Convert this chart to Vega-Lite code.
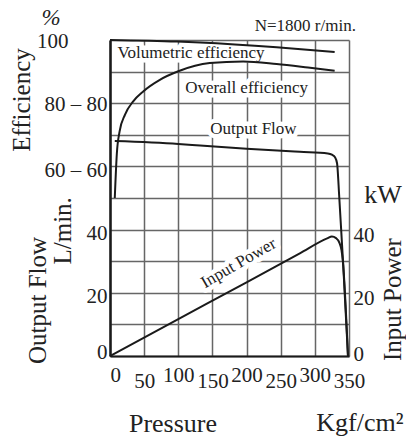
{
  "$schema": "https://vega.github.io/schema/vega-lite/v6.json",
  "width": 239,
  "height": 316,
  "autosize": {"type": "none"},
  "padding": {"left": 110, "top": 40, "right": 57, "bottom": 83},
  "background": "white",
  "config": {
    "view": {"stroke": null},
    "font": "Liberation Serif",
    "text": {"font": "Liberation Serif"},
    "axis": {"labelFont": "Liberation Serif", "titleFont": "Liberation Serif", "labelOverlap": false, "labelBound": false, "labelFlush": false}
  },
  "datasets": {
    "curves": [
      {"series": "Volumetric efficiency", "p": 0, "v": 100},
      {"series": "Volumetric efficiency", "p": 98, "v": 99.5},
      {"series": "Volumetric efficiency", "p": 132, "v": 99.2},
      {"series": "Volumetric efficiency", "p": 244, "v": 97.7},
      {"series": "Volumetric efficiency", "p": 329, "v": 96.2},
      {"series": "Overall efficiency", "p": 7, "v": 50},
      {"series": "Overall efficiency", "p": 10, "v": 64},
      {"series": "Overall efficiency", "p": 14, "v": 71},
      {"series": "Overall efficiency", "p": 22, "v": 76.4},
      {"series": "Overall efficiency", "p": 34, "v": 80.6},
      {"series": "Overall efficiency", "p": 49, "v": 83.8},
      {"series": "Overall efficiency", "p": 73, "v": 87.4},
      {"series": "Overall efficiency", "p": 100, "v": 90.1},
      {"series": "Overall efficiency", "p": 146, "v": 92.7},
      {"series": "Overall efficiency", "p": 195, "v": 93.2},
      {"series": "Overall efficiency", "p": 244, "v": 92.4},
      {"series": "Overall efficiency", "p": 290, "v": 91.3},
      {"series": "Overall efficiency", "p": 329, "v": 90.3},
      {"series": "Output Flow", "p": 7, "v": 68},
      {"series": "Output Flow", "p": 100, "v": 67.1},
      {"series": "Output Flow", "p": 132, "v": 66.6},
      {"series": "Output Flow", "p": 200, "v": 65.6},
      {"series": "Output Flow", "p": 278, "v": 64.6},
      {"series": "Output Flow", "p": 319, "v": 64.1},
      {"series": "Output Flow", "p": 325, "v": 63.7},
      {"series": "Output Flow", "p": 329.5, "v": 62.9},
      {"series": "Output Flow", "p": 332.5, "v": 61},
      {"series": "Output Flow", "p": 335.7, "v": 50.4},
      {"series": "Output Flow", "p": 341.5, "v": 29},
      {"series": "Output Flow", "p": 348.5, "v": 0},
      {"series": "Input Power", "p": 0, "v": 0},
      {"series": "Input Power", "p": 100, "v": 11.7},
      {"series": "Input Power", "p": 200, "v": 23.3},
      {"series": "Input Power", "p": 278, "v": 32.5},
      {"series": "Input Power", "p": 318, "v": 37.2},
      {"series": "Input Power", "p": 325, "v": 37.8},
      {"series": "Input Power", "p": 331, "v": 37.3},
      {"series": "Input Power", "p": 336, "v": 35.8},
      {"series": "Input Power", "p": 339, "v": 33.5},
      {"series": "Input Power", "p": 341, "v": 30},
      {"series": "Input Power", "p": 348.5, "v": 0}
    ],
    "notes": [
      {"text": "Volumetric efficiency", "p": 118.6, "v": 94.2},
      {"text": "Overall efficiency", "p": 200, "v": 83.1},
      {"text": "Output Flow", "p": 210, "v": 70.1},
      {"text": "N=1800 r/min.", "p": 286, "v": 103},
      {"text": "Input Power", "p": 192, "v": 28},
      {"text": "%", "p": -86.4, "v": 104.8},
      {"text": "Efficiency", "p": -117, "v": 81},
      {"text": "L/min.", "p": -56.4, "v": 39.6},
      {"text": "kW", "p": 399.7, "v": 48.4},
      {"text": "Kgf/cm²", "p": 366, "v": -23.7}
    ],
    "xticks": [{"p": 50}, {"p": 150}, {"p": 250}]
  },
  "encoding": {
    "x": {
      "field": "p",
      "type": "quantitative",
      "scale": {"domain": [0, 350], "nice": false, "zero": false},
      "axis": {
        "values": [0, 50, 100, 150, 200, 250, 300, 350],
        "grid": true,
        "gridColor": "#666",
        "gridWidth": 1.5,
        "domain": true,
        "domainColor": "#1a1a1a",
        "domainWidth": 2,
        "ticks": false,
        "labelFont": "Liberation Serif",
        "labelFontSize": 21,
        "labelColor": "#222",
        "labelAlign": {"condition": {"test": "datum.value === 0", "value": "left"}, "value": "center"},
        "labelPadding": {"condition": {"test": "datum.value % 100 === 50", "value": 14}, "value": 8},
        "title": "Pressure",
        "titleFont": "Liberation Serif",
        "titleFontWeight": "normal",
        "titleFontSize": 26,
        "titleColor": "#222",
        "titleX": 62.5,
        "titleY": 75,
        "titleAlign": "center",
        "titleBaseline": "alphabetic",
        "titleAngle": 0
      }
    }
  },
  "layer": [
    {
      "data": {"name": "curves"},
      "encoding": {
        "y": {
          "field": "v",
          "type": "quantitative",
          "scale": {"domain": [0, 100], "nice": false, "zero": false},
          "axis": {
            "orient": "left",
            "values": [0, 10, 20, 30, 40, 50, 60, 70, 80, 90, 100],
            "grid": true,
            "gridColor": "#666",
            "gridWidth": 1.5,
            "domain": true,
            "domainColor": "#1a1a1a",
            "domainWidth": 2.5,
            "ticks": false,
            "labelExpr": "datum.value === 100 ? '100' : datum.value === 80 ? '80 – 80' : datum.value === 60 ? '60 – 60' : (datum.value === 0 || datum.value === 20 || datum.value === 40) ? datum.label : ''",
            "labelFont": "Liberation Serif",
            "labelFontSize": 21,
            "labelColor": "#222",
            "labelPadding": {"condition": {"test": "datum.value === 100", "value": 42}, "value": 3},
            "labelOffset": {"condition": [{"test": "datum.value === 0", "value": -4}, {"test": "datum.value >= 80", "value": 1.5}], "value": 4},
            "title": "Output Flow",
            "titleFont": "Liberation Serif",
            "titleFontWeight": "normal",
            "titleFontSize": 25,
            "titleColor": "#222",
            "titleX": -65,
            "titleY": 260,
            "titleAngle": 270,
            "titleAlign": "center",
            "titleBaseline": "alphabetic"
          }
        }
      },
      "layer": [
        {
          "data": {"values": [{}]},
          "mark": {"type": "rule", "color": "#666", "strokeWidth": 1.5},
          "encoding": {"x": {"datum": -57}, "x2": {"datum": 0}, "y": {"datum": 100}}
        },
        {
          "data": {"name": "xticks"},
          "mark": {"type": "rule", "color": "#555", "strokeWidth": 1.5},
          "encoding": {"y": {"datum": 0}, "y2": {"datum": -2.85}}
        },
        {
          "data": {"name": "notes"},
          "transform": [{"filter": "indexof(['Volumetric efficiency','Overall efficiency','Output Flow'], datum.text) >= 0"}],
          "mark": {"type": "text", "font": "Liberation Serif", "fontSize": 17, "align": "center", "baseline": "alphabetic", "fill": "white", "stroke": "white", "strokeWidth": 9, "strokeJoin": "round"},
          "encoding": {"text": {"field": "text"}}
        },
        {
          "data": {"name": "notes"},
          "transform": [{"filter": "datum.text === 'Input Power'"}],
          "mark": {"type": "text", "font": "Liberation Serif", "fontSize": 17, "align": "center", "baseline": "alphabetic", "angle": -30, "fill": "white", "stroke": "white", "strokeWidth": 9, "strokeJoin": "round"},
          "encoding": {"text": {"field": "text"}}
        },
        {
          "transform": [{"filter": "datum.series !== 'Input Power'"}],
          "mark": {"type": "line", "color": "#1a1a1a", "strokeWidth": 2, "interpolate": "monotone"},
          "encoding": {"detail": {"field": "series"}}
        },
        {
          "data": {"name": "notes"},
          "transform": [{"filter": "indexof(['Volumetric efficiency','Overall efficiency','Output Flow','N=1800 r/min.'], datum.text) >= 0"}],
          "mark": {"type": "text", "font": "Liberation Serif", "fontSize": 17, "align": "center", "baseline": "alphabetic", "color": "#222"},
          "encoding": {"text": {"field": "text"}}
        },
        {
          "data": {"name": "notes"},
          "transform": [{"filter": "datum.text === 'Input Power'"}],
          "mark": {"type": "text", "font": "Liberation Serif", "fontSize": 17, "align": "center", "baseline": "alphabetic", "angle": -30, "color": "#222"},
          "encoding": {"text": {"field": "text"}}
        },
        {
          "data": {"name": "notes"},
          "transform": [{"filter": "datum.text === '%'"}],
          "mark": {"type": "text", "font": "Liberation Serif", "fontSize": 23, "fontStyle": "italic", "align": "center", "baseline": "alphabetic", "color": "#222"},
          "encoding": {"text": {"field": "text"}}
        },
        {
          "data": {"name": "notes"},
          "transform": [{"filter": "datum.text === 'Efficiency' || datum.text === 'L/min.'"}],
          "mark": {"type": "text", "font": "Liberation Serif", "fontSize": 25, "align": "center", "baseline": "alphabetic", "angle": 270, "color": "#222"},
          "encoding": {"text": {"field": "text"}}
        },
        {
          "data": {"name": "notes"},
          "transform": [{"filter": "datum.text === 'kW' || datum.text === 'Kgf/cm²'"}],
          "mark": {"type": "text", "font": "Liberation Serif", "fontSize": 26, "align": "center", "baseline": "alphabetic", "color": "#222"},
          "encoding": {"text": {"field": "text"}}
        }
      ]
    },
    {
      "data": {"name": "curves"},
      "transform": [{"filter": "datum.series === 'Input Power'"}],
      "mark": {"type": "line", "color": "#1a1a1a", "strokeWidth": 2, "interpolate": "monotone"},
      "encoding": {
        "y": {
          "field": "v",
          "type": "quantitative",
          "scale": {"domain": [0, 100], "nice": false, "zero": false},
          "axis": {
            "orient": "right",
            "values": [0, 20, 40],
            "grid": false,
            "domain": false,
            "ticks": false,
            "labelFont": "Liberation Serif",
            "labelFontSize": 21,
            "labelColor": "#222",
            "labelAlign": "left",
            "labelPadding": 4,
            "labelOffset": {"condition": {"test": "datum.value === 0", "value": -1.5}, "value": 6},
            "title": "Input Power",
            "titleFont": "Liberation Serif",
            "titleFontWeight": "normal",
            "titleFontSize": 25,
            "titleColor": "#222",
            "titleX": 51,
            "titleY": 259,
            "titleAngle": 270,
            "titleAlign": "center",
            "titleBaseline": "alphabetic"
          }
        }
      }
    }
  ],
  "resolve": {"scale": {"y": "independent"}, "axis": {"y": "independent"}}
}
